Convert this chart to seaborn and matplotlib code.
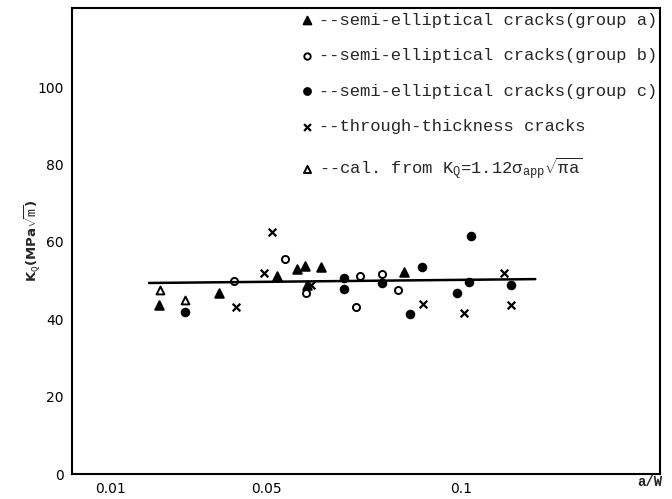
import matplotlib
matplotlib.use("Agg")
import matplotlib.pyplot as plt
import pandas as pd
import seaborn as sns

# a/W and K_Q (MPa sqrt(m))
group_a_aw = [0.0224, 0.0378, 0.0526, 0.0578, 0.0598, 0.0603, 0.0639, 0.0852]
group_a_kq = [43.8, 46.8, 51.2, 52.9, 53.7, 48.8, 53.6, 52.2]

group_b_aw = [0.0415, 0.0548, 0.0600, 0.0729, 0.0739, 0.0796, 0.0837]
group_b_kq = [49.9, 55.5, 46.9, 43.1, 51.2, 51.7, 47.7]

group_c_aw = [0.0290, 0.0698, 0.0698, 0.0796, 0.0867, 0.0899, 0.0989, 0.1021, 0.1025, 0.1128]
group_c_kq = [41.8, 50.7, 47.9, 49.3, 41.3, 53.6, 46.9, 49.7, 61.5, 48.9]

through_aw = [0.0422, 0.0494, 0.0513, 0.0614, 0.0902, 0.1006, 0.1110, 0.1128]
through_kq = [43.2, 51.9, 62.6, 48.8, 43.9, 41.7, 52.0, 43.6]

calc_aw = [0.0227, 0.0290]
calc_kq = [47.7, 45.0]

fit_aw = [0.0198, 0.1190]
fit_kq = [49.4, 50.4]

y_ticks = [0, 20, 40, 60, 80, 100]
x_ticks = [0.01, 0.05, 0.1]
x_tick_labels = ["0.01", "0.05", "0.1"]

legend_labels = [
    "--semi-elliptical cracks(group a)",
    "--semi-elliptical cracks(group b)",
    "--semi-elliptical cracks(group c)",
    "--through-thickness cracks",
    r"--cal. from K$_Q$=1.12$\sigma_{app}\sqrt{\pi a}$",
]


def main() -> None:
    sns.set_theme(style="white")
    plt.rcParams["font.family"] = ["DejaVu Sans"]
    plt.rcParams["mathtext.fontset"] = "custom"
    plt.rcParams["mathtext.rm"] = "Liberation Mono"
    plt.rcParams["mathtext.it"] = "Liberation Mono"
    plt.rcParams["mathtext.bf"] = "Liberation Mono:bold"

    fig = plt.figure(figsize=(6.72, 4.99), dpi=100)
    ax = fig.add_axes([0.107, 0.05, 0.875, 0.934])

    sns.lineplot(x=fit_aw, y=fit_kq, color="black", linewidth=1.8, ax=ax, legend=False)

    groups = [
        (group_a_aw, group_a_kq, "^", "black", 38, legend_labels[0]),
        (group_b_aw, group_b_kq, "o", "white", 26, legend_labels[1]),
        (group_c_aw, group_c_kq, "o", "black", 30, legend_labels[2]),
        (through_aw, through_kq, "x", "black", 30, legend_labels[3]),
        (calc_aw, calc_kq, "^", "white", 32, legend_labels[4]),
    ]
    for aw, kq, marker, face, size, label in groups:
        df = pd.DataFrame({"aw": aw, "kq": kq})
        if marker == "x":
            sns.scatterplot(data=df, x="aw", y="kq", marker=marker, color="black",
                            s=size, linewidth=1.6, ax=ax, label=label)
        else:
            sns.scatterplot(data=df, x="aw", y="kq", marker=marker, facecolors=face,
                            edgecolors="black", s=size, linewidth=1.4, ax=ax, label=label)

    ax.set_xlim(0, 0.151)
    ax.set_ylim(0, 120.5)
    ax.set_xticks(x_ticks)
    ax.set_xticklabels(x_tick_labels)
    ax.set_yticks(y_ticks)
    ax.tick_params(axis="x", direction="in", length=7, width=1.3, colors="black",
                   labelsize=10, pad=6)
    ax.tick_params(axis="y", direction="out", length=6, width=1.3, colors="black",
                   labelsize=10, pad=0)
    for spine in ax.spines.values():
        spine.set_color("black")
        spine.set_linewidth(1.5)

    ax.set_xlabel("")
    ax.set_ylabel(r"K$_Q$(MPa$\sqrt{m}$)", fontsize=9.5, fontweight="bold")
    ax.yaxis.set_label_coords(-0.05, 0.5)
    ax.text(0.983, -0.002, "a/W", transform=ax.transAxes, ha="center", va="top",
            fontsize=10, fontweight="bold", family="Liberation Mono")

    ax.legend(loc="upper left", bbox_to_anchor=(0.37, 1.015), frameon=False,
              prop={"family": "Liberation Mono", "size": 12.3},
              handlelength=0.6, handletextpad=0.45, labelspacing=1.2,
              borderaxespad=0.3, markerscale=0.9)

    fig.savefig("out.png", dpi=100)
    plt.close(fig)


if __name__ == "__main__":
    main()
